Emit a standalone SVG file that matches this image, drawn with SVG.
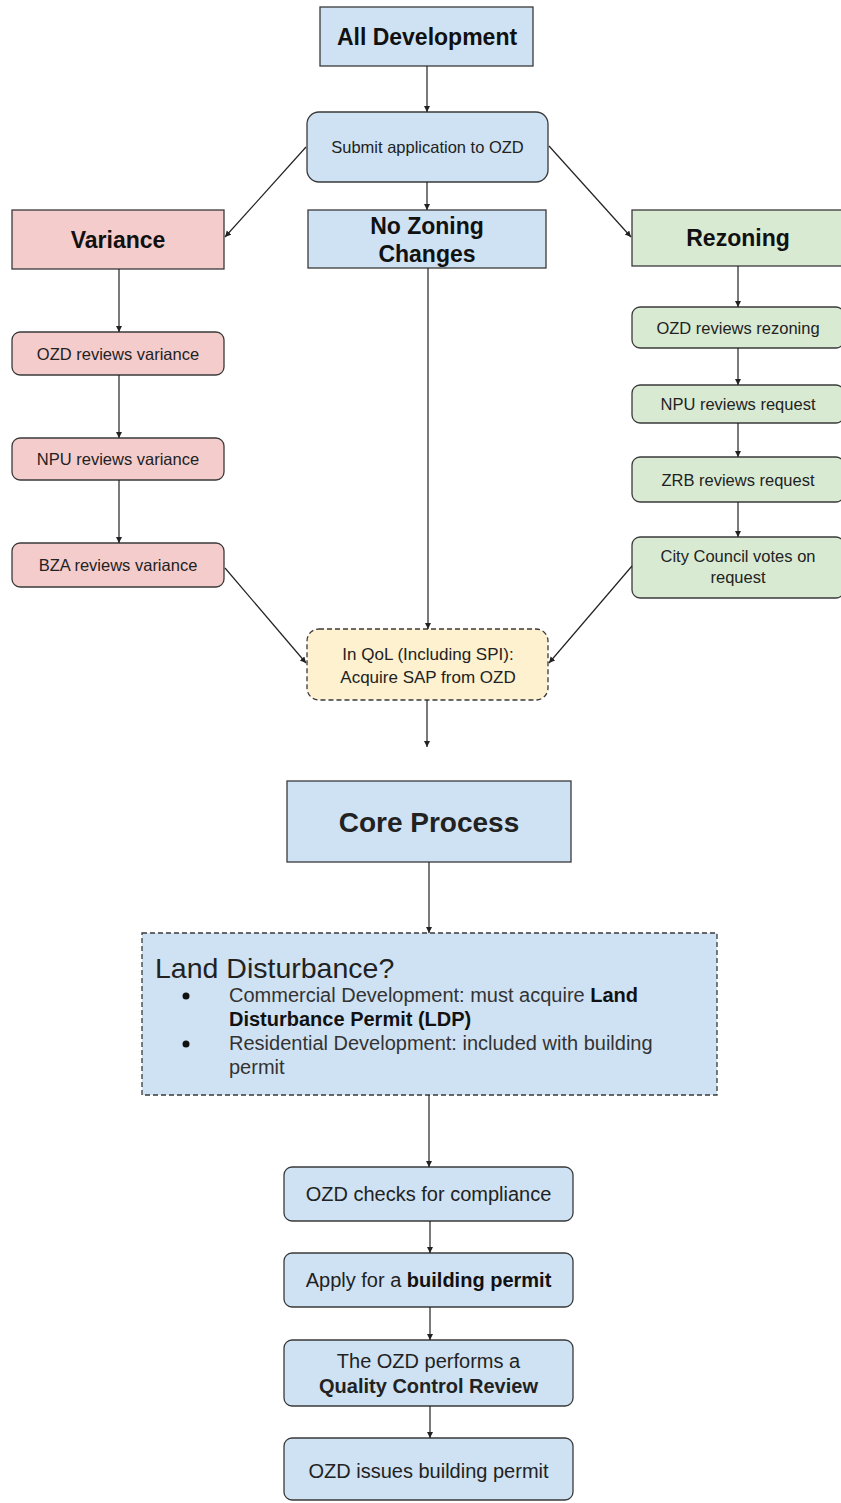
<svg xmlns="http://www.w3.org/2000/svg" width="841" height="1503" viewBox="0 0 841 1503">
<defs>
<marker id="ah" markerUnits="userSpaceOnUse" markerWidth="8" markerHeight="8" refX="6" refY="3" orient="auto">
<path d="M0,0 L6,3 L0,6 Z" fill="#222"/>
</marker>
<style>
.b{fill:#cfe2f3;stroke:#3a3a3a;stroke-width:1.3}
.r{fill:#f4cccc;stroke:#3a3a3a;stroke-width:1.3}
.g{fill:#d9ead3;stroke:#3a3a3a;stroke-width:1.3}
.y{fill:#fdf1cf;stroke:#3a3a3a;stroke-width:1.3;stroke-dasharray:5 3}
.d{stroke-dasharray:5 3}
.t{font-family:"Liberation Sans",Arial,sans-serif;fill:#222;text-anchor:middle}
.h{font-weight:bold;font-size:23px;fill:#111}
.s{font-size:16.5px}
.m{font-size:20px}
.c line{stroke:#222;stroke-width:1.2;marker-end:url(#ah)}
</style>
</defs>
<rect width="841" height="1503" fill="#fff"/>
<g id="all-development"><rect class="b" x="320" y="7" width="213" height="59"/><text class="t h" x="427" y="45">All Development</text></g>
<g id="submit"><rect class="b" x="307" y="112" width="241" height="70" rx="12"/><text class="t s" x="427.5" y="153">Submit application to OZD</text></g>
<g id="no-zoning"><rect class="b" x="308" y="210" width="238" height="58"/><text class="t h" x="427" y="234">No Zoning</text><text class="t h" x="427" y="262">Changes</text></g>
<g id="variance"><rect class="r" x="12" y="210" width="212" height="59"/><text class="t h" x="118" y="248">Variance</text></g>
<g id="rezoning"><rect class="g" x="632" y="210" width="212" height="56"/><text class="t h" x="738" y="246">Rezoning</text></g>
<g id="ozd-variance"><rect class="r" x="12" y="332" width="212" height="43" rx="8"/><text class="t s" x="118" y="360">OZD reviews variance</text></g>
<g id="npu-variance"><rect class="r" x="12" y="438" width="212" height="42" rx="8"/><text class="t s" x="118" y="465">NPU reviews variance</text></g>
<g id="bza-variance"><rect class="r" x="12" y="543" width="212" height="44" rx="8"/><text class="t s" x="118" y="571">BZA reviews variance</text></g>
<g id="ozd-rezoning"><rect class="g" x="632" y="307" width="212" height="41" rx="8"/><text class="t s" x="738" y="334">OZD reviews rezoning</text></g>
<g id="npu-request"><rect class="g" x="632" y="385" width="212" height="38" rx="8"/><text class="t s" x="738" y="410">NPU reviews request</text></g>
<g id="zrb-request"><rect class="g" x="632" y="457" width="212" height="45" rx="8"/><text class="t s" x="738" y="486">ZRB reviews request</text></g>
<g id="city-council"><rect class="g" x="632" y="537" width="212" height="61" rx="8"/><text class="t s" x="738" y="562">City Council votes on</text><text class="t s" x="738" y="583">request</text></g>
<g id="qol"><rect class="y" x="307" y="629" width="241" height="71" rx="12"/><text class="t" font-size="17" x="428" y="660">In QoL (Including SPI):</text><text class="t" font-size="17" x="428" y="683">Acquire SAP from OZD</text></g>
<g id="core-process"><rect class="b" x="287" y="781" width="284" height="81"/><text class="t" font-weight="bold" font-size="28" fill="#111" x="429" y="832">Core Process</text></g>
<g id="land-disturbance"><rect class="b d" x="142" y="933" width="575" height="162"/>
<text font-family="Liberation Sans,Arial,sans-serif" font-size="28.5" fill="#222" x="155" y="978">Land Disturbance?</text>
<circle cx="186" cy="996" r="3.5" fill="#111"/><circle cx="186" cy="1044" r="3.5" fill="#111"/>
<text font-family="Liberation Sans,Arial,sans-serif" font-size="20" fill="#333" x="229" y="1002">Commercial Development: must acquire <tspan font-weight="bold" fill="#111">Land</tspan></text>
<text font-family="Liberation Sans,Arial,sans-serif" font-size="20" font-weight="bold" fill="#111" x="229" y="1026">Disturbance Permit (LDP)</text>
<text font-family="Liberation Sans,Arial,sans-serif" font-size="20" fill="#333" x="229" y="1050">Residential Development: included with building</text>
<text font-family="Liberation Sans,Arial,sans-serif" font-size="20" fill="#333" x="229" y="1074">permit</text>
</g>
<g id="ozd-checks"><rect class="b" x="284" y="1167" width="289" height="54" rx="8"/><text class="t m" x="428.5" y="1201">OZD checks for compliance</text></g>
<g id="apply-permit"><rect class="b" x="284" y="1253" width="289" height="54" rx="8"/><text class="t m" x="428.5" y="1287">Apply for a <tspan font-weight="bold" fill="#111">building permit</tspan></text></g>
<g id="qc-review"><rect class="b" x="284" y="1340" width="289" height="66" rx="8"/><text class="t m" x="428.5" y="1368">The OZD performs a</text><text class="t m" font-weight="bold" fill="#111" x="428.5" y="1393">Quality Control Review</text></g>
<g id="issues-permit"><rect class="b" x="284" y="1438" width="289" height="62" rx="8"/><text class="t m" x="428.5" y="1478">OZD issues building permit</text></g>
<g id="connectors" class="c">
<line x1="427" y1="66" x2="427" y2="112"/>
<line x1="427" y1="182" x2="427" y2="210"/>
<line x1="306" y1="147" x2="225" y2="237"/>
<line x1="549" y1="146" x2="631" y2="237"/>
<line x1="119" y1="269" x2="119" y2="332"/>
<line x1="119" y1="375" x2="119" y2="438"/>
<line x1="119" y1="480" x2="119" y2="543"/>
<line x1="738" y1="266" x2="738" y2="307"/>
<line x1="738" y1="348" x2="738" y2="385"/>
<line x1="738" y1="423" x2="738" y2="457"/>
<line x1="738" y1="502" x2="738" y2="537"/>
<line x1="428" y1="268" x2="428" y2="629"/>
<line x1="225" y1="568" x2="306" y2="663"/>
<line x1="632" y1="566" x2="549" y2="663"/>
<line x1="427" y1="700" x2="427" y2="747"/>
<line x1="429" y1="862" x2="429" y2="933"/>
<line x1="429" y1="1095" x2="429" y2="1167"/>
<line x1="430" y1="1221" x2="430" y2="1253"/>
<line x1="430" y1="1307" x2="430" y2="1340"/>
<line x1="430" y1="1406" x2="430" y2="1438"/>
</g>
</svg>
